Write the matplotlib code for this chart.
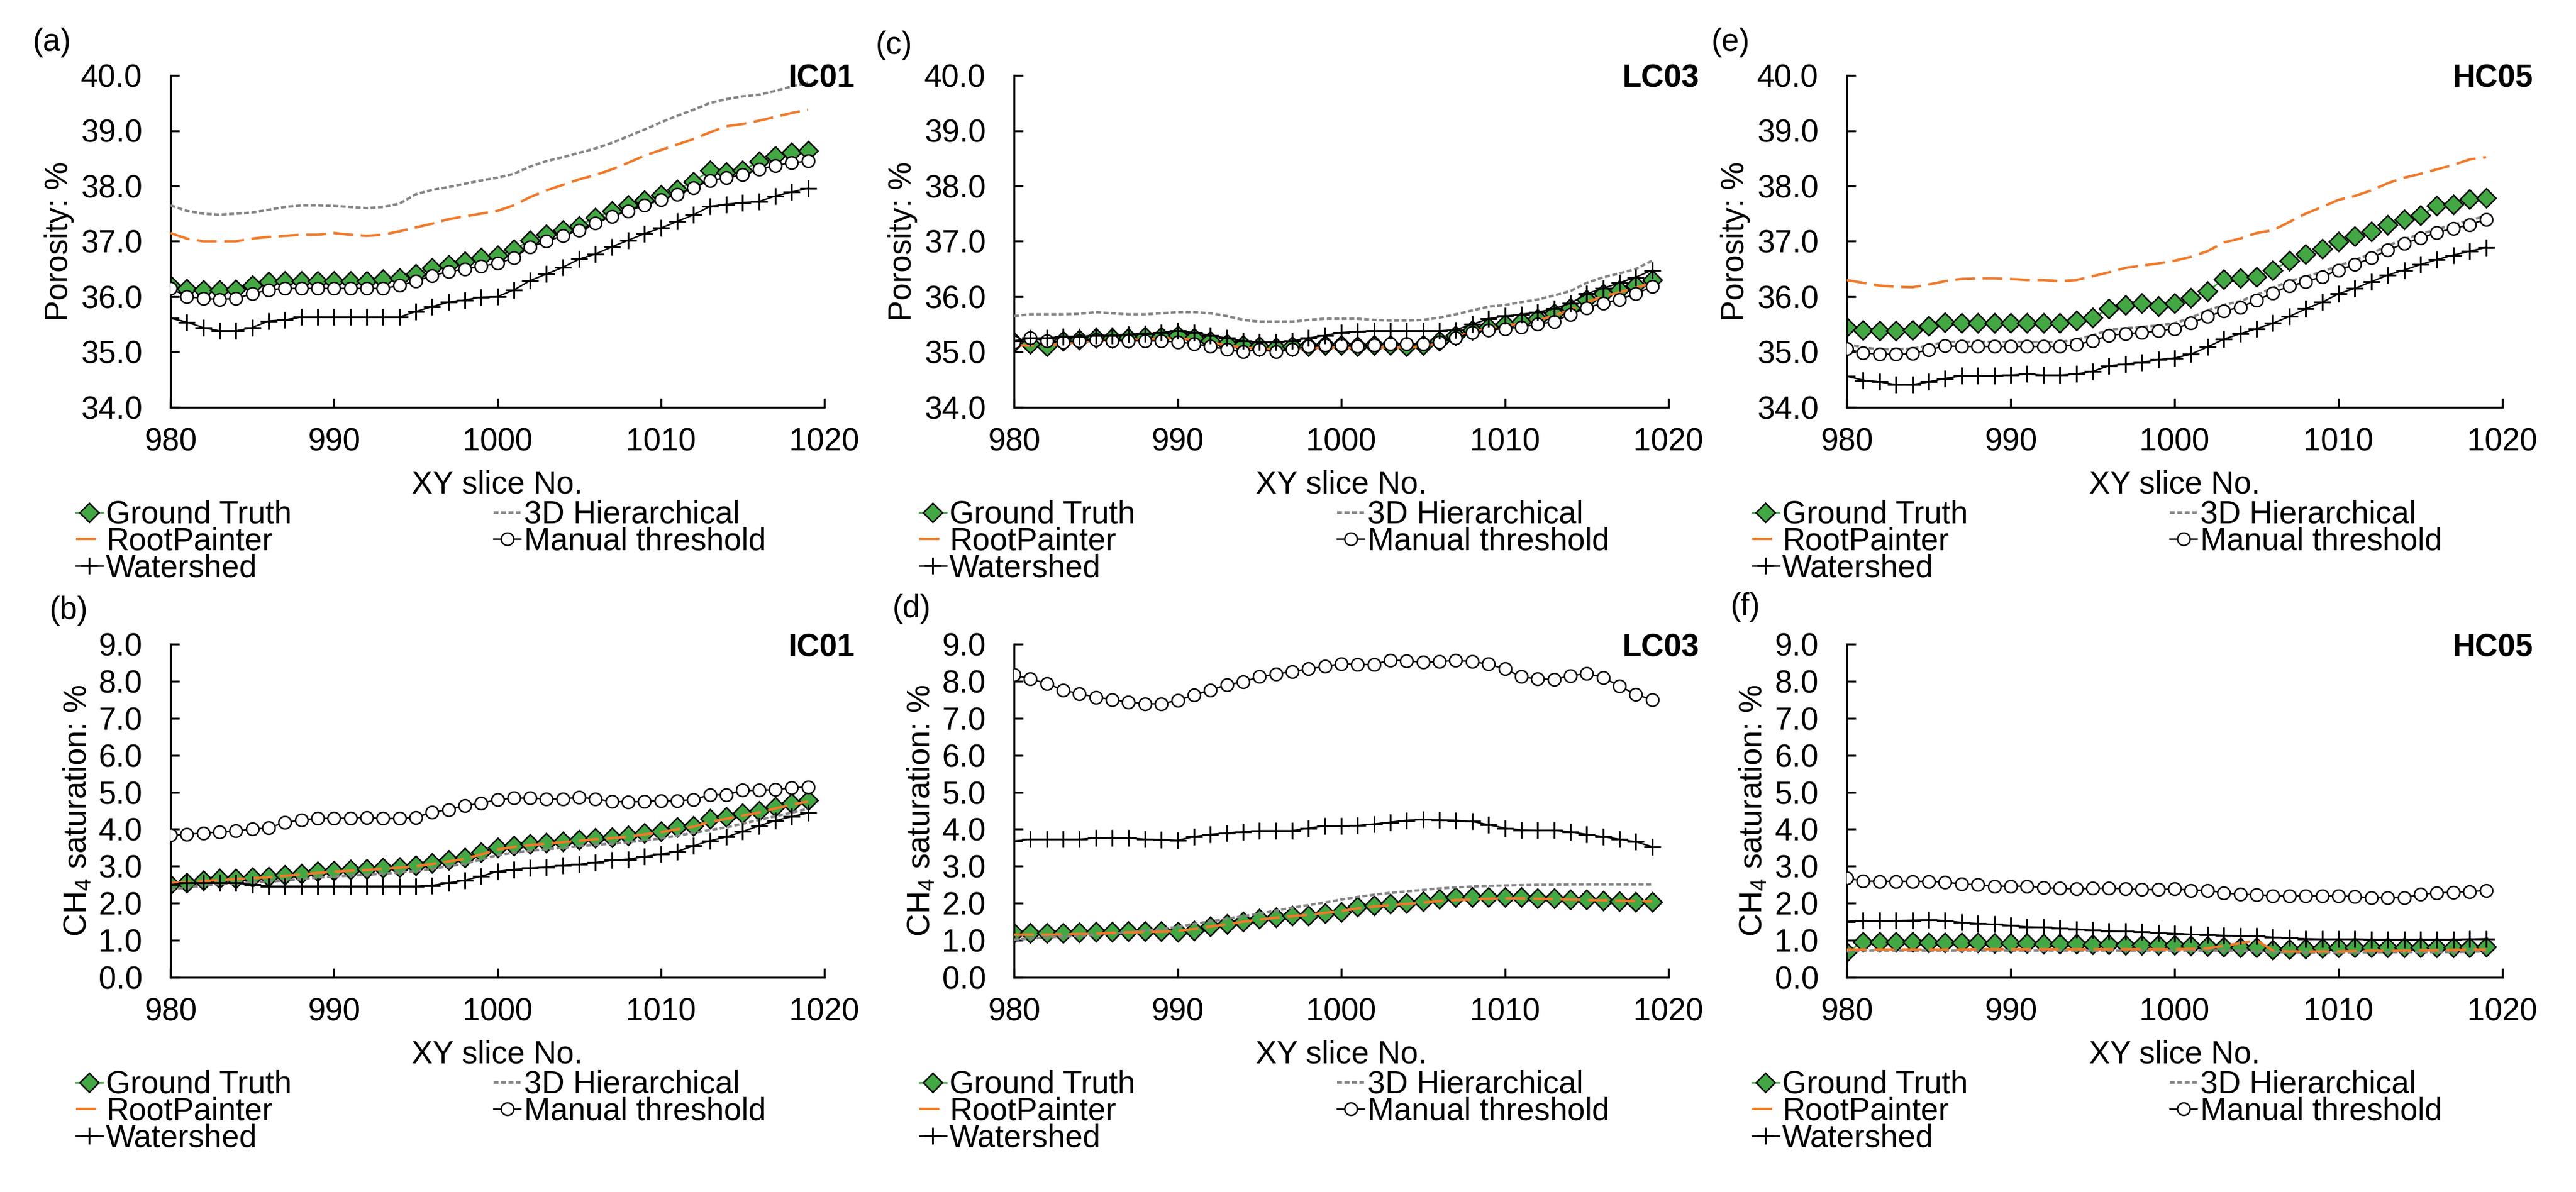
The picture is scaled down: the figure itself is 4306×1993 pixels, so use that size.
import numpy as np
import matplotlib
matplotlib.use('Agg')
import matplotlib.pyplot as plt

plt.rcParams['font.family'] = ['Liberation Sans', 'DejaVu Sans']
plt.rcParams['mathtext.fontset'] = 'custom'
plt.rcParams['mathtext.rm'] = 'Liberation Sans'
plt.rcParams['mathtext.default'] = 'regular'

# XY slice numbers
slices = np.arange(980, 1020)

# ---- porosity, IC01 (a)
gt_a = [36.20, 36.14, 36.12, 36.12, 36.13, 36.20, 36.27, 36.28, 36.28, 36.28,
        36.28, 36.28, 36.28, 36.31, 36.34, 36.41, 36.52, 36.57, 36.64, 36.70,
        36.75, 36.85, 37.02, 37.12, 37.20, 37.28, 37.43, 37.55, 37.65, 37.74,
        37.84, 37.94, 38.08, 38.28, 38.25, 38.28, 38.44, 38.54, 38.61, 38.64]
h3d_a = [37.65, 37.55, 37.50, 37.48, 37.50, 37.52, 37.57, 37.62, 37.65, 37.65,
         37.64, 37.62, 37.60, 37.62, 37.68, 37.85, 37.93, 37.98, 38.04, 38.10,
         38.15, 38.22, 38.35, 38.45, 38.52, 38.60, 38.68, 38.78, 38.90, 39.02,
         39.15, 39.27, 39.38, 39.50, 39.57, 39.62, 39.65, 39.72, 39.80, 39.87]
rp_a = [37.15, 37.05, 37.00, 37.00, 37.00, 37.05, 37.08, 37.10, 37.12, 37.12,
        37.15, 37.12, 37.10, 37.12, 37.18, 37.25, 37.32, 37.40, 37.45, 37.50,
        37.55, 37.65, 37.80, 37.92, 38.02, 38.12, 38.20, 38.30, 38.42, 38.55,
        38.65, 38.75, 38.85, 38.97, 39.08, 39.12, 39.18, 39.25, 39.32, 39.38]
man_a = [36.15, 36.00, 35.97, 35.95, 35.97, 36.05, 36.12, 36.15, 36.15, 36.15,
         36.15, 36.15, 36.15, 36.15, 36.20, 36.28, 36.38, 36.45, 36.50, 36.55,
         36.60, 36.70, 36.90, 37.00, 37.10, 37.20, 37.33, 37.45, 37.55, 37.65,
         37.75, 37.85, 37.97, 38.10, 38.15, 38.20, 38.30, 38.37, 38.42, 38.45]
ws_a = [35.61, 35.54, 35.44, 35.38, 35.38, 35.44, 35.56, 35.58, 35.63, 35.63,
        35.63, 35.63, 35.63, 35.63, 35.63, 35.73, 35.82, 35.90, 35.94, 35.99,
        36.00, 36.12, 36.29, 36.41, 36.53, 36.68, 36.77, 36.90, 37.02, 37.14,
        37.24, 37.36, 37.48, 37.63, 37.67, 37.70, 37.72, 37.82, 37.89, 37.96]

# ---- CH4 saturation, IC01 (b)
gt_b = [2.51, 2.55, 2.62, 2.66, 2.67, 2.70, 2.71, 2.77, 2.80, 2.86,
        2.87, 2.91, 2.93, 2.95, 2.98, 3.02, 3.09, 3.16, 3.23, 3.37,
        3.50, 3.55, 3.60, 3.64, 3.67, 3.71, 3.76, 3.78, 3.83, 3.90,
        3.94, 4.05, 4.09, 4.28, 4.33, 4.42, 4.49, 4.60, 4.71, 4.78]
h3d_b = [2.38, 2.42, 2.48, 2.52, 2.54, 2.57, 2.58, 2.62, 2.65, 2.70,
         2.72, 2.75, 2.77, 2.80, 2.83, 2.87, 2.93, 3.00, 3.07, 3.18,
         3.30, 3.37, 3.42, 3.46, 3.50, 3.54, 3.58, 3.61, 3.65, 3.70,
         3.75, 3.83, 3.90, 3.98, 4.05, 4.15, 4.25, 4.35, 4.45, 4.55]
rp_b = [2.55, 2.57, 2.60, 2.63, 2.65, 2.68, 2.70, 2.74, 2.78, 2.82,
        2.85, 2.88, 2.90, 2.93, 2.96, 3.00, 3.06, 3.13, 3.20, 3.32,
        3.45, 3.52, 3.57, 3.61, 3.65, 3.69, 3.73, 3.76, 3.80, 3.86,
        3.92, 4.00, 4.07, 4.20, 4.28, 4.37, 4.45, 4.56, 4.66, 4.75]
man_b = [3.84, 3.86, 3.90, 3.92, 3.96, 4.00, 4.04, 4.18, 4.25, 4.29,
         4.30, 4.30, 4.32, 4.29, 4.29, 4.32, 4.46, 4.53, 4.64, 4.70,
         4.80, 4.84, 4.84, 4.82, 4.82, 4.86, 4.82, 4.75, 4.74, 4.75,
         4.77, 4.77, 4.80, 4.93, 4.93, 5.05, 5.05, 5.07, 5.12, 5.14]
ws_b = [2.50, 2.55, 2.55, 2.55, 2.55, 2.50, 2.46, 2.46, 2.46, 2.46,
        2.46, 2.46, 2.46, 2.46, 2.46, 2.46, 2.48, 2.55, 2.62, 2.73,
        2.86, 2.91, 2.95, 2.98, 3.02, 3.05, 3.10, 3.16, 3.19, 3.26,
        3.33, 3.40, 3.55, 3.69, 3.79, 3.94, 4.09, 4.23, 4.34, 4.44]

# ---- porosity, LC03 (c)
gt_c = [35.18, 35.15, 35.10, 35.20, 35.22, 35.25, 35.25, 35.25, 35.28, 35.28,
        35.30, 35.25, 35.20, 35.15, 35.12, 35.10, 35.08, 35.10, 35.10, 35.12,
        35.12, 35.10, 35.12, 35.12, 35.10, 35.12, 35.20, 35.30, 35.40, 35.45,
        35.50, 35.55, 35.60, 35.70, 35.80, 35.95, 36.05, 36.12, 36.20, 36.30]
h3d_c = [35.65, 35.68, 35.68, 35.68, 35.69, 35.72, 35.70, 35.68, 35.68, 35.70,
         35.72, 35.72, 35.70, 35.65, 35.58, 35.55, 35.55, 35.55, 35.58, 35.60,
         35.60, 35.60, 35.58, 35.57, 35.57, 35.58, 35.62, 35.68, 35.75, 35.82,
         35.85, 35.90, 35.95, 36.02, 36.10, 36.25, 36.35, 36.42, 36.50, 36.65]
rp_c = [35.12, 35.12, 35.12, 35.15, 35.18, 35.20, 35.22, 35.22, 35.23, 35.24,
        35.25, 35.22, 35.18, 35.12, 35.08, 35.06, 35.05, 35.06, 35.07, 35.08,
        35.08, 35.07, 35.08, 35.08, 35.08, 35.10, 35.17, 35.27, 35.37, 35.42,
        35.47, 35.52, 35.57, 35.66, 35.76, 35.90, 36.00, 36.08, 36.16, 36.25]
man_c = [35.18, 35.25, 35.20, 35.18, 35.20, 35.22, 35.20, 35.20, 35.20, 35.20,
         35.18, 35.15, 35.10, 35.05, 35.00, 35.05, 35.00, 35.05, 35.10, 35.12,
         35.12, 35.10, 35.12, 35.15, 35.15, 35.15, 35.18, 35.25, 35.35, 35.40,
         35.42, 35.45, 35.50, 35.55, 35.68, 35.80, 35.88, 35.95, 36.05, 36.18]
ws_c = [35.20, 35.25, 35.25, 35.28, 35.28, 35.30, 35.30, 35.32, 35.33, 35.35,
        35.38, 35.35, 35.30, 35.25, 35.20, 35.18, 35.18, 35.20, 35.25, 35.30,
        35.35, 35.37, 35.38, 35.38, 35.38, 35.38, 35.38, 35.40, 35.50, 35.60,
        35.65, 35.68, 35.72, 35.78, 35.88, 36.05, 36.15, 36.25, 36.35, 36.48]

# ---- CH4 saturation, LC03 (d)
gt_d = [1.19, 1.20, 1.20, 1.20, 1.21, 1.22, 1.23, 1.24, 1.25, 1.25,
        1.23, 1.26, 1.37, 1.44, 1.51, 1.59, 1.62, 1.66, 1.67, 1.73,
        1.76, 1.91, 1.94, 1.98, 2.01, 2.05, 2.12, 2.17, 2.16, 2.17,
        2.17, 2.16, 2.14, 2.13, 2.10, 2.10, 2.07, 2.06, 2.03, 2.03]
h3d_d = [1.02, 1.05, 1.08, 1.10, 1.12, 1.15, 1.18, 1.22, 1.26, 1.30,
         1.36, 1.44, 1.51, 1.58, 1.65, 1.72, 1.80, 1.88, 1.95, 2.02,
         2.10, 2.17, 2.23, 2.28, 2.32, 2.36, 2.40, 2.43, 2.45, 2.47,
         2.48, 2.49, 2.50, 2.50, 2.51, 2.51, 2.51, 2.51, 2.51, 2.51]
rp_d = [1.15, 1.15, 1.15, 1.16, 1.17, 1.18, 1.20, 1.21, 1.22, 1.23,
        1.25, 1.30, 1.37, 1.43, 1.50, 1.56, 1.61, 1.65, 1.69, 1.74,
        1.79, 1.86, 1.91, 1.95, 1.98, 2.02, 2.06, 2.09, 2.10, 2.12,
        2.13, 2.13, 2.12, 2.11, 2.10, 2.09, 2.08, 2.07, 2.06, 2.05]
man_d = [8.17, 8.06, 7.94, 7.76, 7.66, 7.57, 7.50, 7.44, 7.39, 7.39,
         7.48, 7.62, 7.76, 7.90, 7.98, 8.12, 8.19, 8.26, 8.33, 8.40,
         8.47, 8.45, 8.45, 8.57, 8.55, 8.51, 8.53, 8.56, 8.53, 8.46,
         8.33, 8.12, 8.06, 8.05, 8.14, 8.21, 8.10, 7.87, 7.64, 7.50]
ws_d = [3.68, 3.73, 3.73, 3.73, 3.73, 3.76, 3.76, 3.76, 3.73, 3.72,
        3.70, 3.80, 3.86, 3.90, 3.93, 3.96, 3.96, 3.96, 4.03, 4.09,
        4.09, 4.10, 4.14, 4.19, 4.24, 4.26, 4.25, 4.24, 4.21, 4.12,
        4.03, 3.98, 3.97, 3.97, 3.93, 3.86, 3.80, 3.73, 3.66, 3.53]

# ---- porosity, HC05 (e)
gt_e = [35.45, 35.40, 35.38, 35.38, 35.40, 35.47, 35.54, 35.52, 35.52, 35.52,
        35.52, 35.52, 35.52, 35.52, 35.57, 35.62, 35.78, 35.85, 35.88, 35.83,
        35.88, 35.98, 36.10, 36.31, 36.34, 36.36, 36.48, 36.65, 36.77, 36.87,
        36.99, 37.09, 37.18, 37.30, 37.40, 37.47, 37.64, 37.66, 37.76, 37.78]
h3d_e = [35.15, 35.08, 35.05, 35.05, 35.06, 35.12, 35.18, 35.18, 35.18, 35.18,
         35.18, 35.18, 35.18, 35.18, 35.22, 35.30, 35.40, 35.43, 35.45, 35.48,
         35.52, 35.62, 35.75, 35.85, 35.92, 36.03, 36.16, 36.28, 36.36, 36.45,
         36.56, 36.66, 36.78, 36.92, 37.04, 37.13, 37.22, 37.30, 37.38, 37.46]
rp_e = [36.30, 36.25, 36.20, 36.18, 36.17, 36.22, 36.28, 36.32, 36.33, 36.33,
        36.32, 36.30, 36.30, 36.28, 36.30, 36.37, 36.44, 36.52, 36.56, 36.60,
        36.65, 36.72, 36.82, 36.98, 37.05, 37.15, 37.20, 37.35, 37.50, 37.62,
        37.75, 37.82, 37.92, 38.05, 38.15, 38.22, 38.30, 38.38, 38.48, 38.52]
man_e = [35.06, 34.98, 34.96, 34.96, 34.97, 35.04, 35.11, 35.10, 35.10, 35.10,
         35.10, 35.10, 35.10, 35.10, 35.13, 35.20, 35.30, 35.33, 35.35, 35.38,
         35.42, 35.52, 35.64, 35.74, 35.81, 35.93, 36.07, 36.19, 36.27, 36.36,
         36.48, 36.58, 36.70, 36.84, 36.96, 37.06, 37.16, 37.23, 37.30, 37.40]
ws_e = [34.56, 34.49, 34.46, 34.41, 34.41, 34.46, 34.52, 34.57, 34.57, 34.57,
        34.58, 34.60, 34.58, 34.58, 34.60, 34.65, 34.75, 34.78, 34.81, 34.86,
        34.89, 34.96, 35.09, 35.23, 35.33, 35.42, 35.52, 35.64, 35.78, 35.90,
        36.05, 36.15, 36.27, 36.39, 36.48, 36.58, 36.67, 36.75, 36.82, 36.89]

# ---- CH4 saturation, HC05 (f)
gt_f = [0.68, 0.95, 0.95, 0.95, 0.95, 0.94, 0.94, 0.93, 0.93, 0.92,
        0.92, 0.92, 0.91, 0.90, 0.90, 0.89, 0.89, 0.88, 0.88, 0.87,
        0.87, 0.86, 0.84, 0.82, 0.80, 0.81, 0.74, 0.76, 0.78, 0.79,
        0.80, 0.80, 0.80, 0.80, 0.80, 0.80, 0.80, 0.80, 0.81, 0.82]
h3d_f = [0.70, 0.72, 0.72, 0.72, 0.72, 0.72, 0.72, 0.72, 0.72, 0.72,
         0.72, 0.72, 0.72, 0.72, 0.72, 0.72, 0.72, 0.72, 0.72, 0.72,
         0.72, 0.72, 0.72, 0.72, 0.72, 0.70, 0.68, 0.67, 0.67, 0.67,
         0.67, 0.67, 0.67, 0.68, 0.68, 0.68, 0.68, 0.68, 0.69, 0.70]
rp_f = [0.75, 0.75, 0.75, 0.75, 0.75, 0.75, 0.75, 0.75, 0.76, 0.76,
        0.76, 0.76, 0.76, 0.76, 0.76, 0.76, 0.76, 0.76, 0.76, 0.76,
        0.76, 0.77, 0.78, 0.85, 0.92, 1.00, 0.72, 0.70, 0.70, 0.70,
        0.70, 0.71, 0.72, 0.72, 0.72, 0.73, 0.73, 0.74, 0.75, 0.75]
man_f = [2.68, 2.60, 2.59, 2.59, 2.59, 2.59, 2.57, 2.52, 2.50, 2.46,
         2.46, 2.46, 2.42, 2.40, 2.39, 2.40, 2.41, 2.39, 2.37, 2.37,
         2.39, 2.35, 2.35, 2.28, 2.24, 2.23, 2.20, 2.20, 2.20, 2.20,
         2.20, 2.18, 2.15, 2.15, 2.15, 2.24, 2.28, 2.30, 2.31, 2.35]
ws_f = [1.51, 1.53, 1.53, 1.53, 1.54, 1.55, 1.53, 1.48, 1.45, 1.43,
        1.40, 1.36, 1.35, 1.32, 1.30, 1.27, 1.25, 1.24, 1.22, 1.20,
        1.18, 1.16, 1.15, 1.13, 1.12, 1.11, 1.08, 1.06, 1.04, 1.03,
        1.03, 1.03, 1.02, 1.02, 1.02, 1.02, 1.02, 1.02, 1.03, 1.04]

samples = ['IC01', 'LC03', 'HC05']
panel_tags = [['(a)', '(b)'], ['(c)', '(d)'], ['(e)', '(f)']]
porosity = [(gt_a, h3d_a, rp_a, man_a, ws_a),
            (gt_c, h3d_c, rp_c, man_c, ws_c),
            (gt_e, h3d_e, rp_e, man_e, ws_e)]
saturation = [(gt_b, h3d_b, rp_b, man_b, ws_b),
              (gt_d, h3d_d, rp_d, man_d, ws_d),
              (gt_f, h3d_f, rp_f, man_f, ws_f)]

W, H = 4306, 1993
FS = 19
GREEN = '#43A843'
ORANGE = '#F07A2A'
GREY = '#858585'

fig = plt.figure(figsize=(W / 200, H / 200), dpi=200)

# pixel geometry of the panels (left, right) and rows (top, bottom)
cols = [(285, 1378), (1695, 2789), (3087, 4183)]
rows = [(126, 681), (1077, 1634)]
tag_pos = [[(55, 71), (83, 1021)], [(1464, 76), (1492, 1018)], [(2861, 71), (2893, 1015)]]
ylab_x = [-0.170, -0.142]


def draw(ax, series, ylim, yticks, ylabel, row):
    gt, h3d, rp, man, ws = series
    l_gt, = ax.plot(slices, gt, color=GREEN, lw=1.0, marker='D', ms=8.2,
                    mfc=GREEN, mec='black', mew=0.9, label='Ground Truth', zorder=2)
    l_3d, = ax.plot(slices, h3d, color=GREY, lw=1.5, ls=(0, (2.0, 1.0)),
                    label='3D Hierarchical', zorder=3)
    l_rp, = ax.plot(slices, rp, color=ORANGE, lw=1.5, ls=(0, (8, 3)),
                    label='RootPainter', zorder=4)
    l_mn, = ax.plot(slices, man, color='black', lw=0.9, marker='o', ms=7.5,
                    mfc='white', mec='black', mew=0.9, label='Manual threshold', zorder=5)
    l_ws, = ax.plot(slices, ws, color='black', lw=0.9, marker='+', ms=10,
                    mew=1.1, label='Watershed', zorder=6)

    ax.set_xlim(980, 1020)
    ax.set_ylim(*ylim)
    ax.set_xticks([980, 990, 1000, 1010, 1020])
    ax.set_yticks(yticks)
    ax.set_yticklabels(['%.1f' % v for v in yticks])
    for s in ['top', 'right']:
        ax.spines[s].set_visible(False)
    for s in ['left', 'bottom']:
        ax.spines[s].set_linewidth(1.2)
    ax.tick_params(axis='both', direction='in', length=5.4, width=1.2,
                   labelsize=FS, colors='black')
    ax.tick_params(axis='x', pad=12)
    ax.tick_params(axis='y', pad=17)

    ax.set_xlabel('XY slice No.', fontsize=FS, va='center')
    ax.set_ylabel(ylabel, fontsize=FS, va='center')
    h = ax.get_position().height * H
    ax.xaxis.set_label_coords(0.5, -130 / h)
    ax.yaxis.set_label_coords(ylab_x[row], 0.5)

    handles = [l_gt, l_rp, l_ws, l_3d, l_mn]
    w = ax.get_position().width * W
    ax.legend(handles=handles, ncol=2, loc='upper left',
              bbox_to_anchor=(-158 / w, 1 - (h + 155) / h), bbox_transform=ax.transAxes,
              frameon=False, borderaxespad=0, borderpad=0, handlelength=0.85,
              handletextpad=0.1, columnspacing=6.4, labelspacing=-0.1, fontsize=FS)


for c, (x0, x1) in enumerate(cols):
    for r, (y0, y1) in enumerate(rows):
        ax = fig.add_axes([x0 / W, 1 - y1 / H, (x1 - x0) / W, (y1 - y0) / H])
        if r == 0:
            draw(ax, porosity[c], (34, 40), [34, 35, 36, 37, 38, 39, 40], 'Porosity: %', r)
        else:
            draw(ax, saturation[c], (0, 9), list(range(10)), 'CH$_{4}$ saturation: %', r)
        ax.text(1 + 51 / (x1 - x0), 1 - 6 / (y1 - y0), samples[c], transform=ax.transAxes,
                ha='right', va='center', fontsize=FS, fontweight='bold')
        tx, ty = tag_pos[c][r]
        fig.text(tx / W, 1 - ty / H, panel_tags[c][r], ha='left', va='center', fontsize=FS)

fig.savefig('out.png', dpi=200)
